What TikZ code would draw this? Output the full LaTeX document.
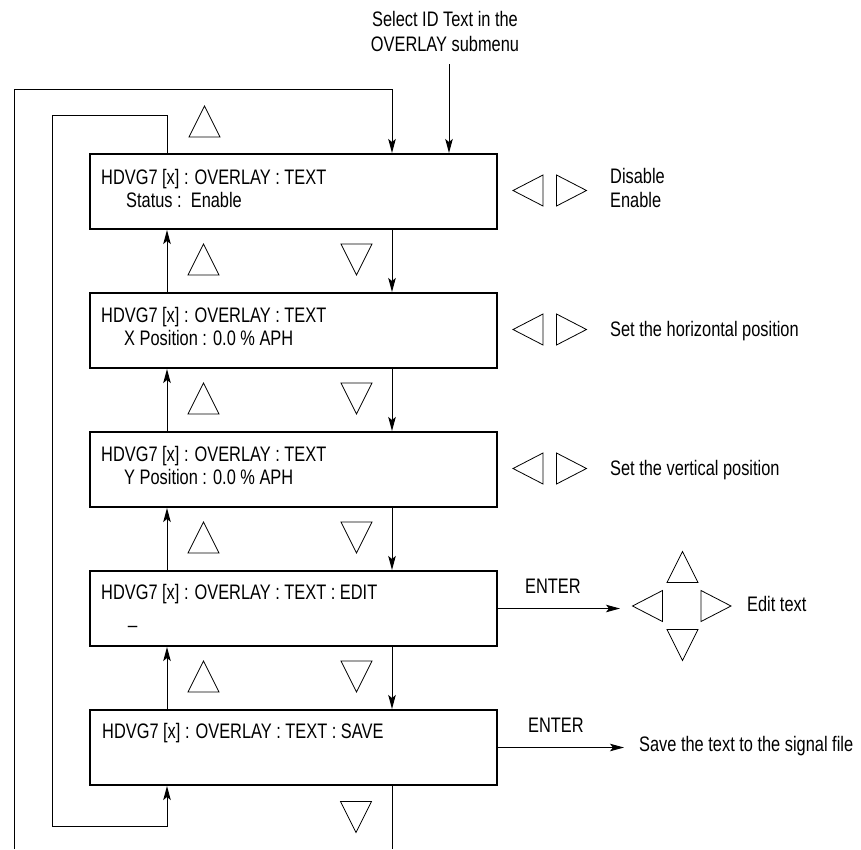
\documentclass[tikz,border=0pt]{standalone}
\usepackage{fontspec}
\setmainfont[FakeStretch=0.78]{Liberation Sans}
\usetikzlibrary{arrows.meta}
\newcommand\TriUp[2]{\draw[tri] (#1-15.5,#2+15.5) -- (#1,#2-15.5) -- (#1+15.5,#2+15.5) -- cycle;}
\newcommand\TriDown[2]{\draw[tri] (#1-15.5,#2-15.5) -- (#1,#2+15.5) -- (#1+15.5,#2-15.5) -- cycle;}
\newcommand\TriLeft[2]{\draw[tri] (#1+15,#2-15.5) -- (#1-15,#2) -- (#1+15,#2+15.5) -- cycle;}
\newcommand\TriRight[2]{\draw[tri] (#1-15,#2-15.5) -- (#1+15,#2) -- (#1-15,#2+15.5) -- cycle;}
\begin{document}
\begin{tikzpicture}[x=1pt,y=-1pt,
  box/.style={draw, line width=2pt, minimum width=407pt, minimum height=75pt, inner sep=0pt, anchor=north west},
  lbl/.style={anchor=base west, inner sep=0pt, font=\fontsize{21}{25}\selectfont},
  clbl/.style={lbl, anchor=base},
  conn/.style={line width=1pt},
  arr/.style={conn, -{Stealth[length=14pt,width=7.5pt,inset=3pt]}},
  tri/.style={line width=0.8pt, line join=miter}
]
\useasboundingbox (0,0) rectangle (861,849);

% boxes
\node[box] (b1) at (89,153) {};
\node[box] (b2) at (89,292) {};
\node[box] (b3) at (89,431) {};
\node[box] (b4) at (89,570) {};
\node[box] (b5) at (89,709) {};

% box texts
\node[lbl] (t1a) at (101,184) {HDVG7 [x] : OVERLAY : TEXT};
\node[lbl] (t1b) at (126,207) {Status :\ \ Enable};
\node[lbl] (t2a) at (101,322) {HDVG7 [x] : OVERLAY : TEXT};
\node[lbl] (t2b) at (124,345) {X Position : 0.0 \% APH};
\node[lbl] (t3a) at (101,461) {HDVG7 [x] : OVERLAY : TEXT};
\node[lbl] (t3b) at (124,484) {Y Position : 0.0 \% APH};
\node[lbl] (t4a) at (101,599) {HDVG7 [x] : OVERLAY : TEXT : EDIT};
\node[lbl] (t4b) at (128,623) {\_};
\node[lbl] (t5a) at (102,738) {HDVG7 [x] : OVERLAY : TEXT : SAVE};

% top label
\node[clbl] (sel1) at (445,26) {Select ID Text in the};
\node[clbl] (sel2) at (445,51) {OVERLAY submenu};

% right labels
\node[lbl] (dis) at (610,183) {Disable};
\node[lbl] (ena) at (610,207) {Enable};
\node[lbl] (hor) at (610,336) {Set the horizontal position};
\node[lbl] (ver) at (610,475) {Set the vertical position};
\node[lbl] (ent1) at (525,593) {ENTER};
\node[lbl] (ent2) at (528,732) {ENTER};
\node[lbl] (edt) at (747,611) {Edit text};
\node[lbl] (sav) at (639,751) {Save the text to the signal file};

% helper coordinates
\coordinate (ux) at (167,0);
\coordinate (dx) at (392,0);
\coordinate (inS) at (449,64);
\coordinate (o1) at (14,849);
\coordinate (otop) at (392,89);
\coordinate (obot) at (392,849);
\coordinate (itop) at (52,115);
\coordinate (ibot) at (52,826);
\coordinate (e1) at (620,0);
\coordinate (e2) at (624,0);

% vertical connectors
\draw[arr] (b2.north -| ux) -- (b1.south -| ux);
\draw[arr] (b3.north -| ux) -- (b2.south -| ux);
\draw[arr] (b4.north -| ux) -- (b3.south -| ux);
\draw[arr] (b5.north -| ux) -- (b4.south -| ux);
\draw[arr] (b1.south -| dx) -- (b2.north -| dx);
\draw[arr] (b2.south -| dx) -- (b3.north -| dx);
\draw[arr] (b3.south -| dx) -- (b4.north -| dx);
\draw[arr] (b4.south -| dx) -- (b5.north -| dx);
\draw[arr] (inS) -- (b1.north -| inS);

% loops
\draw[arr] (o1) |- (otop) -- (b1.north -| otop);
\draw[conn] (b5.south -| dx) -- (obot);
\draw[arr] (b1.north -| ux) |- (itop) -- (ibot) -| (b5.south -| ux);

% enter arrows
\draw[arr] (b4.east) -- (b4.east -| e1);
\draw[arr] (b5.east) -- (b5.east -| e2);

% triangles
\TriUp{204.5}{121.5}
\TriUp{203.5}{259.5}\TriDown{356.5}{259.5}
\TriUp{203.5}{398.5}\TriDown{356.5}{398.5}
\TriUp{203.5}{537.5}\TriDown{356.5}{537.5}
\TriUp{203.5}{676.5}\TriDown{356.5}{676.5}
\TriDown{356}{817}
\TriLeft{528}{190.5}\TriRight{571.5}{190.5}
\TriLeft{528}{329.5}\TriRight{571.5}{329.5}
\TriLeft{528}{468.5}\TriRight{571.5}{468.5}
\TriUp{682.5}{567}
\TriLeft{647.5}{606}\TriRight{716}{606}
\TriDown{682.5}{645}
\end{tikzpicture}
\end{document}
